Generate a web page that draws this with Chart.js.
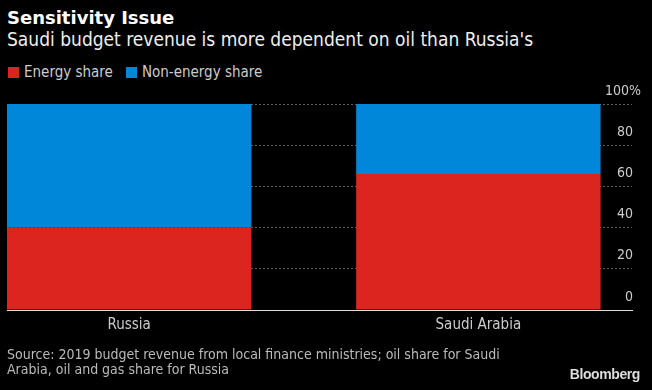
<!DOCTYPE html>
<html>
<head>
<meta charset="utf-8">
<script src="https://cdn.jsdelivr.net/npm/chart.js@4.4.1/dist/chart.umd.min.js"></script>
<style>
  body {
    margin: 0;
    background: #000;
    width: 652px;
    height: 390px;
    overflow: hidden;
    position: relative;
    font-family: 'DejaVu Sans Condensed', 'DejaVu Sans', sans-serif;
    color: #ccc;
  }
  #chart { position: absolute; left: 0; top: 0; }
  .title { position: absolute; left: 7px; top: 8px; font: bold 18px 'DejaVu Sans', sans-serif; line-height: 20px; color: #fff; }
  .subtitle { position: absolute; left: 7px; top: 28px; font-size: 19px; line-height: 22px; color: #eee; }
  #legend { position: absolute; left: 8px; top: 63px; font-size: 15px; line-height: 18px; color: #ccc; white-space: nowrap; }
  #legend span.item { margin-right: 13px; }
  #legend i { display: inline-block; width: 11px; height: 11px; margin-right: 5px; vertical-align: -1px; }
  .source { position: absolute; left: 7px; top: 347px; font-size: 14px; line-height: 15px; color: #bbb; }
  .logo { position: absolute; right: 12px; top: 366px; font: bold 14px 'Liberation Sans', Arial, sans-serif; letter-spacing: -0.4px; color: #ddd; }
</style>
</head>
<body>
<div class="title">Sensitivity Issue</div>
<div class="subtitle">Saudi budget revenue is more dependent on oil than Russia's</div>
<div id="legend"></div>
<canvas id="chart" width="652" height="390"></canvas>
<div class="source">Source: 2019 budget revenue from local finance ministries; oil share for Saudi<br>Arabia, oil and gas share for Russia</div>
<div class="logo">Bloomberg</div>

<script>
const categories = ['Russia', 'Saudi Arabia'];
const energyShare = [40, 66];
const nonEnergyShare = [60, 34];
const yTicks = [0, 20, 40, 60, 80, 100];

const RED = '#dc251f';
const BLUE = '#0087da';
const condensed = "'DejaVu Sans Condensed', 'DejaVu Sans', sans-serif";

function points(values) {
    return values.map((v, i) => ({ x: i, y: v }));
}

// mirrored labels sit at the axis' left edge; push them a bit right so
// the "%" of the top label hangs past the gridlines like the original
const nudgeYLabels = {
    id: 'nudgeYLabels',
    afterLayout(chart) {
        chart.scales.y.left += 9;
    }
};

const ctx = document.getElementById('chart').getContext('2d');

const chart = new Chart(ctx, {
    type: 'bar',
    data: {
        datasets: [{
            label: 'Energy share',
            data: points(energyShare),
            backgroundColor: RED
        }, {
            label: 'Non-energy share',
            data: points(nonEnergyShare),
            backgroundColor: BLUE
        }]
    },
    options: {
        responsive: false,
        animation: false,
        barPercentage: 0.7,
        categoryPercentage: 1,
        layout: {
            padding: { top: 104, left: 7, right: 20, bottom: 50 }
        },
        scales: {
            x: {
                type: 'linear',
                stacked: true,
                offset: false,
                min: -0.35,
                max: 1.44,
                afterBuildTicks: (scale) => {
                    scale.ticks = categories.map((c, i) => ({ value: i }));
                },
                grid: { display: false, drawTicks: false, offset: false },
                border: { display: true, color: '#ddd', width: 1 },
                ticks: {
                    autoSkip: false,
                    maxRotation: 0,
                    padding: 6,
                    color: '#ccc',
                    font: { family: condensed, size: 15 },
                    callback: (value) => categories[value]
                }
            },
            y: {
                position: 'right',
                stacked: true,
                min: 0,
                max: 100,
                afterBuildTicks: (scale) => {
                    scale.ticks = yTicks.map(v => ({ value: v }));
                },
                grid: {
                    color: '#5e5e5e',
                    drawTicks: false,
                    lineWidth: 1
                },
                border: { display: false, dash: [2, 2] },
                ticks: {
                    mirror: true,
                    padding: 0,
                    labelOffset: -13,
                    color: '#ccc',
                    font: { family: condensed, size: 14 },
                    // the % sticks out past the other labels
                    callback: (value) => value === 100 ? value + '%' : value + '  '
                }
            }
        },
        plugins: {
            legend: { display: false },
            tooltip: { enabled: false }
        }
    },
    plugins: [nudgeYLabels]
});

// html legend built from the datasets
document.getElementById('legend').innerHTML = chart.data.datasets.map(ds =>
    `<span class="item"><i style="background:${ds.backgroundColor}"></i>${ds.label}</span>`
).join('');
</script>
</body>
</html>
